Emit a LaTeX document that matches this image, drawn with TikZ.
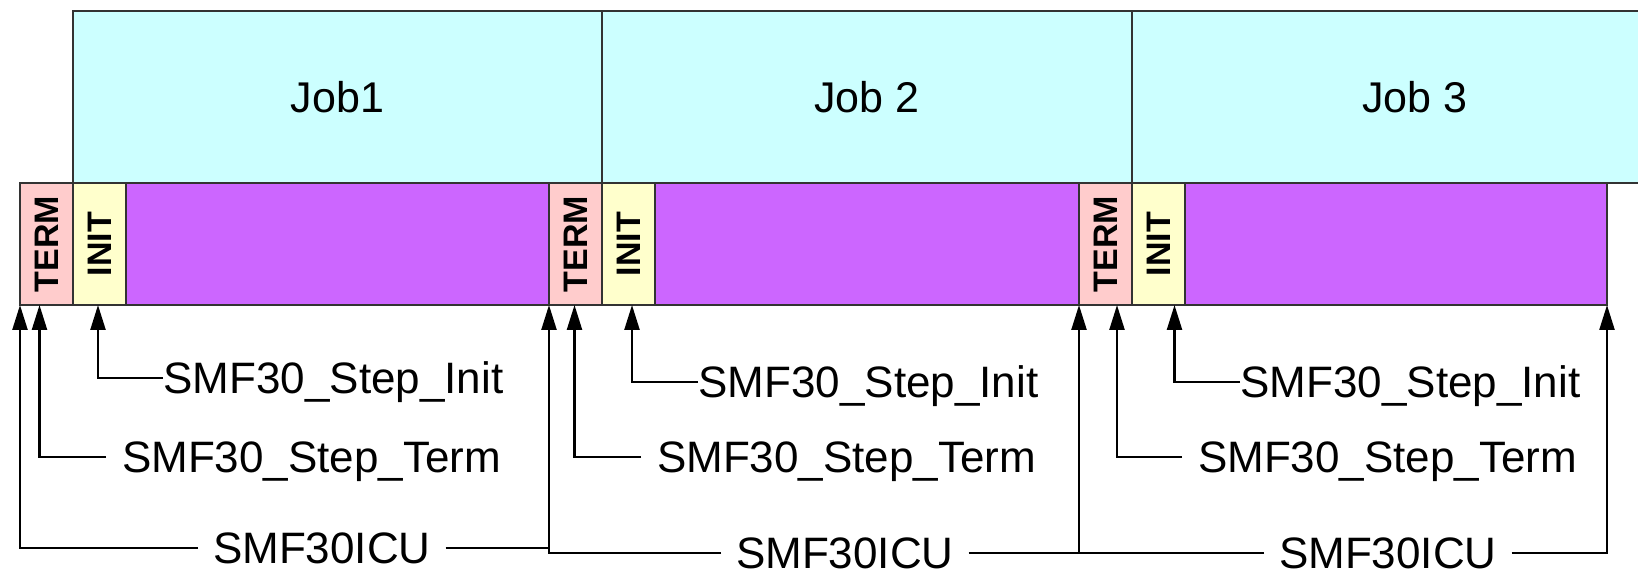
\documentclass[tikz,border=0pt]{standalone}
\usepackage{fontspec}
\setmainfont{Liberation Sans}
\usepackage{graphicx}
\usetikzlibrary{arrows.meta, positioning}
\definecolor{jobcyan}{RGB}{204,255,255}
\definecolor{termpink}{RGB}{255,204,204}
\definecolor{inityellow}{RGB}{255,255,204}
\definecolor{runpurple}{RGB}{204,102,255}

\begin{document}
\begin{tikzpicture}[x=0.5pt, y=-0.5pt, node distance=0pt,
    every node/.style={font=\fontsize{22}{26}\selectfont},
    job/.style={draw=black!80, fill=jobcyan, line width=1pt, outer sep=0pt, anchor=south west, minimum height=86pt, font=\fontsize{21.5}{26}\selectfont},
    tm/.style={draw=black!80, fill=termpink, line width=1pt, outer sep=0pt, inner sep=0pt, minimum width=26.5pt, minimum height=61pt, font=\bfseries\fontsize{17}{19}\selectfont},
    ini/.style={draw=black!80, fill=inityellow, line width=1pt, outer sep=0pt, inner sep=0pt, minimum width=26.5pt, minimum height=61pt, font=\bfseries\fontsize{17}{19}\selectfont},
    run/.style={draw=black!80, fill=runpurple, line width=1pt, outer sep=0pt, inner sep=0pt, minimum height=61pt},
    lbl/.style={inner sep=0pt, anchor=west, text height=15.1pt, text depth=0pt},
    wire/.style={line width=1.2pt},
    arr/.style={wire, -{Triangle[length=12.5pt, width=7.5pt]}}]
    \useasboundingbox (0,0) rectangle (1638,576);
    \clip (0,0) rectangle (1638,576);
    % step bar
    \node[tm, anchor=north west] (t1) at (20,183) {\rotatebox{90}{TERM}};
    \node[ini, right=of t1] (i1) {\rotatebox{90}{INIT}};
    \node[run, right=of i1, minimum width=211.5pt] (r1) {};
    \node[tm, right=of r1] (t2) {\rotatebox{90}{TERM}};
    \node[ini, right=of t2] (i2) {\rotatebox{90}{INIT}};
    \node[run, right=of i2, minimum width=212pt] (r2) {};
    \node[tm, right=of r2] (t3) {\rotatebox{90}{TERM}};
    \node[ini, right=of t3] (i3) {\rotatebox{90}{INIT}};
    \node[run, right=of i3, minimum width=211pt] (r3) {};
    % jobs
    \node[job, minimum width=264.5pt] (j1) at (i1.north west) {Job1};
    \node[job, minimum width=265pt] (j2) at (i2.north west) {Job 2};
    \node[job, minimum width=283pt] (j3) at (i3.north west) {Job 3};
    % exits
    \node[lbl] (si1) at (163,378) {SMF30\_Step\_Init};
    \node[lbl] (si2) at (698,382) {SMF30\_Step\_Init};
    \node[lbl] (si3) at (1240,382) {SMF30\_Step\_Init};
    \node[lbl, outer xsep=8pt] (st1) at (106,457) {SMF30\_Step\_Term};
    \node[lbl, outer xsep=8pt] (st2) at (641,457) {SMF30\_Step\_Term};
    \node[lbl, outer xsep=8pt] (st3) at (1182,457) {SMF30\_Step\_Term};
    \node[lbl, outer xsep=7.5pt] (c1) at (198,548) {SMF30ICU};
    \node[lbl, outer xsep=7.5pt] (c2) at (721,553) {SMF30ICU};
    \node[lbl, outer xsep=7.5pt] (c3) at (1264,553) {SMF30ICU};
    \draw[arr] (si1.west) -| ([xshift=-0.75pt]i1.south);
    \draw[arr] (si2.west) -| ([xshift=1.75pt]i2.south);
    \draw[arr] (si3.west) -| ([xshift=8pt]i3.south);
    \draw[arr] (st1.west) -| ([xshift=-3.5pt]t1.south);
    \draw[arr] (st2.west) -| ([xshift=-0.5pt]t2.south);
    \draw[arr] (st3.west) -| ([xshift=5.75pt]t3.south);
    \draw[arr] (c1.west) -| (t1.south west);
    \draw[arr] (c1.east) -| (t2.south west);
    \draw[wire] (c2.west) -| (c1.east -| t2.south west);
    \draw[arr] (c2.east) -| (t3.south west);
    \draw[wire] (c3.west) -- (c3.west -| t3.south west);
    \draw[arr] (c3.east) -| (r3.south east);
\end{tikzpicture}
\end{document}
